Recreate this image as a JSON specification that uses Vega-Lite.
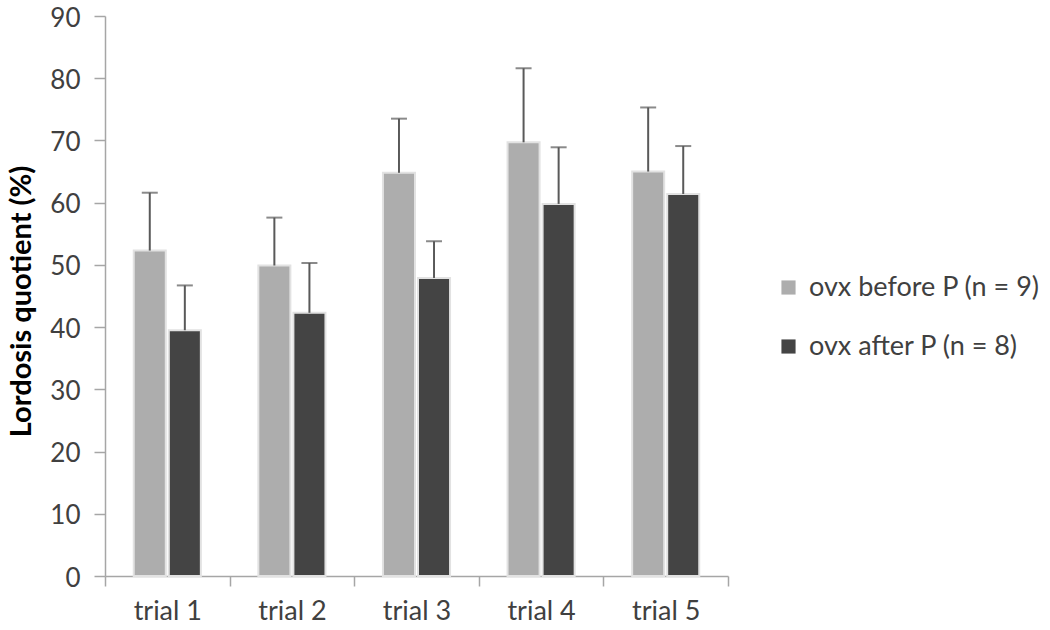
{
  "$schema": "https://vega.github.io/schema/vega-lite/v6.json",
  "autosize": "none",
  "width": 623,
  "height": 560,
  "padding": {"left": 105, "top": 16, "right": 322, "bottom": 54},
  "background": "white",
  "config": {
    "view": {"stroke": null},
    "font": "Lato",
    "axis": {"grid": false}
  },
  "data": {
    "values": [
      {"trial": "trial 1", "group": "ovx before P (n = 9)", "value": 52.3, "err": 61.6},
      {"trial": "trial 1", "group": "ovx after P (n = 8)", "value": 39.5, "err": 46.7},
      {"trial": "trial 2", "group": "ovx before P (n = 9)", "value": 49.9, "err": 57.6},
      {"trial": "trial 2", "group": "ovx after P (n = 8)", "value": 42.3, "err": 50.3},
      {"trial": "trial 3", "group": "ovx before P (n = 9)", "value": 64.8, "err": 73.5},
      {"trial": "trial 3", "group": "ovx after P (n = 8)", "value": 47.9, "err": 53.8},
      {"trial": "trial 4", "group": "ovx before P (n = 9)", "value": 69.7, "err": 81.6},
      {"trial": "trial 4", "group": "ovx after P (n = 8)", "value": 59.8, "err": 68.9},
      {"trial": "trial 5", "group": "ovx before P (n = 9)", "value": 65.0, "err": 75.3},
      {"trial": "trial 5", "group": "ovx after P (n = 8)", "value": 61.4, "err": 69.1}
    ]
  },
  "encoding": {
    "x": {
      "field": "trial", "type": "nominal",
      "scale": {"paddingInner": 0, "paddingOuter": 0},
      "axis": {
        "title": null, "labelAngle": 0, "labelFontSize": 27, "labelColor": "#404040",
        "tickBand": "extent", "tickSize": 10, "tickColor": "#a6a6a6", "domainColor": "#a6a6a6",
        "tickWidth": 1.5, "domainWidth": 1.5, "labelPadding": 12
      }
    },
    "xOffset": {
      "field": "group", "type": "nominal",
      "sort": ["ovx before P (n = 9)", "ovx after P (n = 8)"],
      "scale": {"paddingInner": 0.086, "paddingOuter": 0.82}
    }
  },
  "layer": [
    {
      "mark": {"type": "bar", "stroke": "#e2e2e2", "strokeWidth": 2},
      "encoding": {
        "y": {
          "field": "value", "type": "quantitative",
          "scale": {"domain": [0, 90], "nice": false},
          "axis": {
            "values": [0, 10, 20, 30, 40, 50, 60, 70, 80, 90],
            "title": "Lordosis quotient (%)", "titleFontSize": 29, "titleFontWeight": "bold",
            "titleColor": "#000000", "titlePadding": 13, "titleY": 285,
            "labelFontSize": 26, "labelColor": "#404040", "labelPadding": 14, "labelOffset": 2,
            "tickSize": 11, "tickColor": "#a6a6a6", "domainColor": "#a6a6a6",
            "tickWidth": 1.5, "domainWidth": 1.5
          }
        },
        "color": {
          "field": "group", "type": "nominal",
          "sort": ["ovx before P (n = 9)", "ovx after P (n = 8)"],
          "scale": {"domain": ["ovx before P (n = 9)", "ovx after P (n = 8)"], "range": ["#adadad", "#444444"]},
          "legend": {
            "title": null, "orient": "none", "legendX": 670, "legendY": 258,
            "symbolType": "square", "symbolSize": 200, "symbolStrokeWidth": 0,
            "labelFontSize": 27, "labelColor": "#404040", "rowPadding": 31, "labelOffset": 7,
            "labelLimit": 300
          }
        }
      }
    },
    {
      "mark": {"type": "rule", "color": "#595959", "strokeWidth": 2},
      "encoding": {
        "y": {"field": "value", "type": "quantitative"},
        "y2": {"field": "err"}
      }
    },
    {
      "mark": {"type": "tick", "color": "#595959", "thickness": 2, "size": 16, "orient": "horizontal"},
      "encoding": {
        "y": {"field": "err", "type": "quantitative"}
      }
    }
  ]
}
